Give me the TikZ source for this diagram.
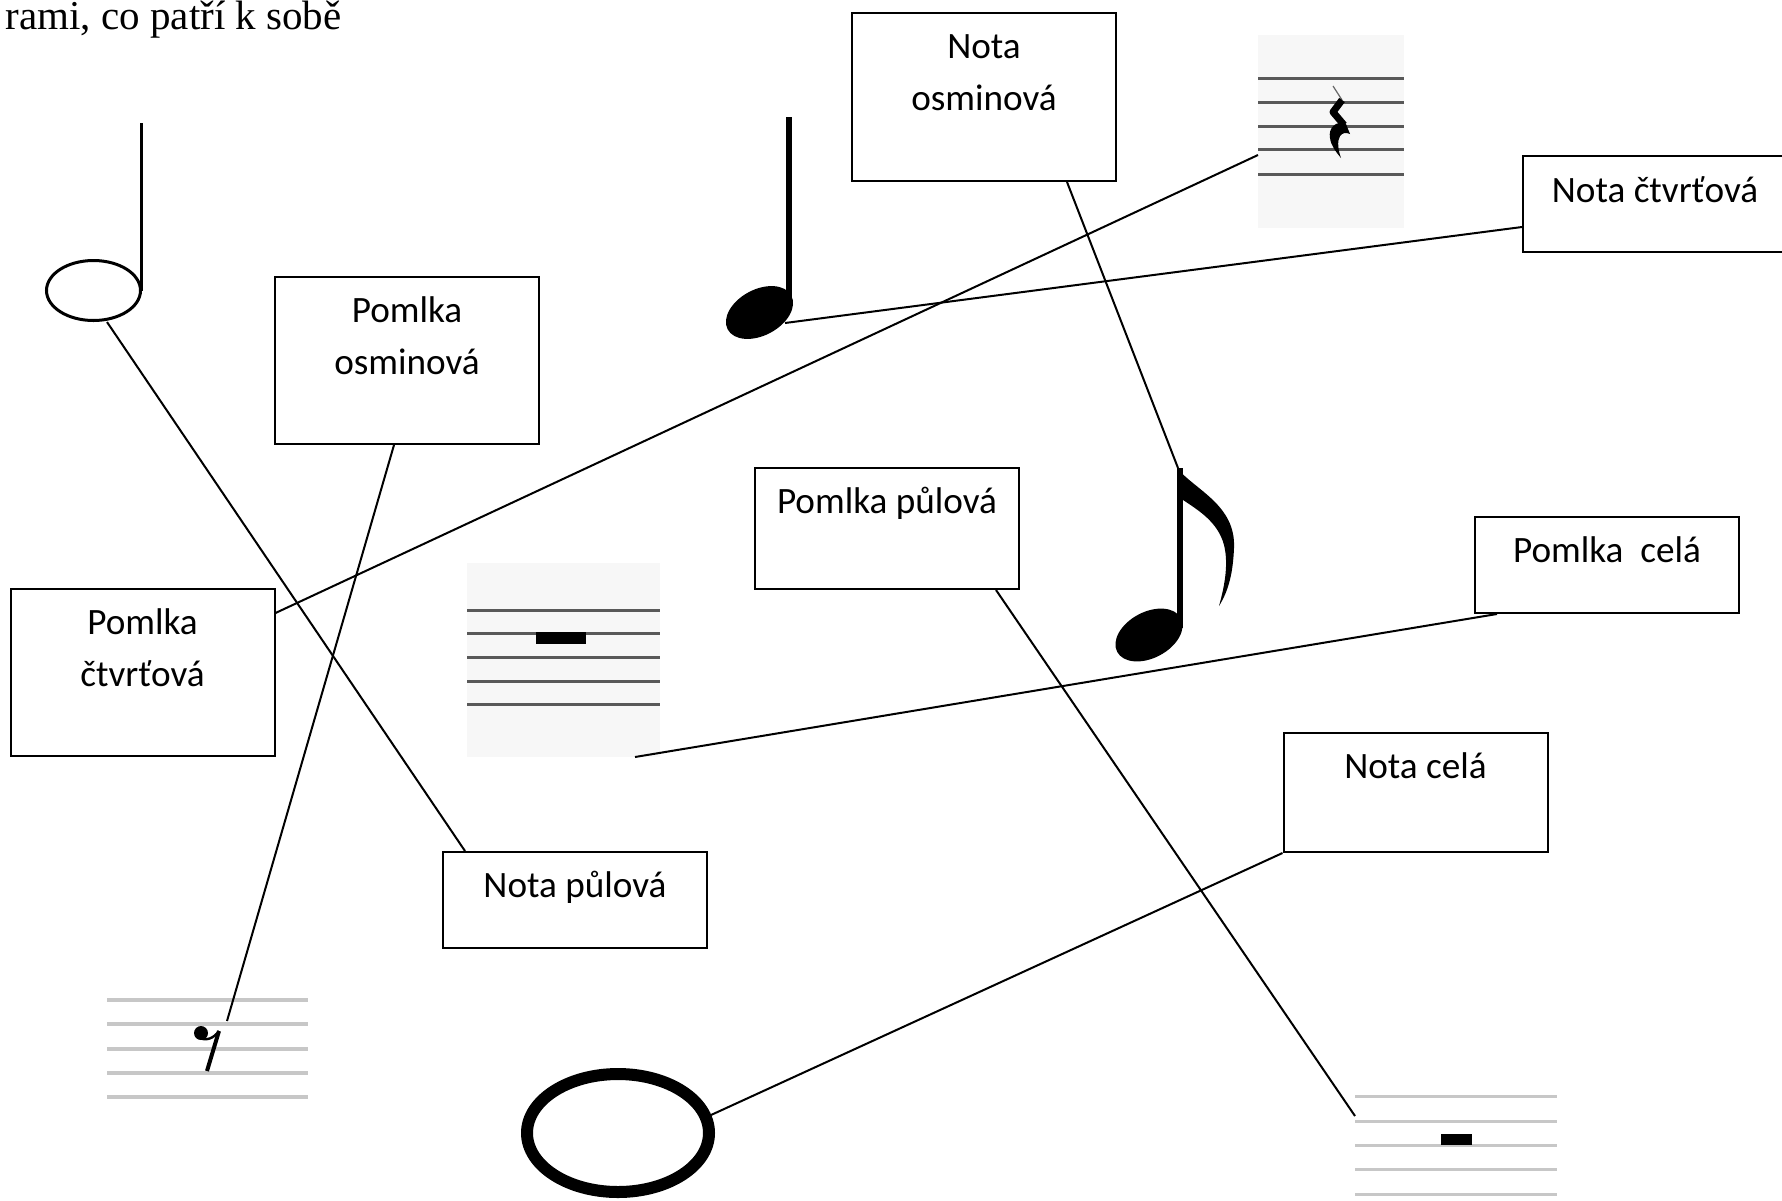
\documentclass[tikz,border=0pt]{standalone}
\usepackage{fontspec}
\setmainfont{Liberation Serif}
\newfontfamily\calibrifont{Carlito}
\begin{document}
\begin{tikzpicture}[x=0.5pt,y=-0.5pt,
  box/.style={draw,line width=1pt,rectangle,inner sep=0pt,minimum width=132pt},
  lbl/.style={anchor=base,inner sep=0pt,font=\calibrifont\fontsize{18.6}{22}\selectfont},
  conn/.style={line width=1pt},
  stafflight/.style={line width=2pt,draw=black!22},
  staffdark/.style={line width=1.5pt,draw=black!65},
  bg/.style={fill=black!3}]
\useasboundingbox (0,0) rectangle (1782,1200);

% title
\node[anchor=base east,inner sep=0pt,font=\fontsize{20.5}{22}\selectfont] (title) at (342,29) {rami, co patří k sobě};

% boxes
\node[box,minimum height=84pt] (no) at (984,97) {};
\node[lbl] (noa) at ([yshift=-23pt]no.north) {Nota};
\node[lbl] (nob) at ([yshift=-49pt]no.north) {osminová};

\node[box,minimum height=48pt] (nc) at (1655,204) {};
\node[lbl] (nca) at ([yshift=-23.5pt]nc.north) {Nota čtvrťová};

\node[box,minimum height=83.5pt] (po) at (407,360.5) {};
\node[lbl] (poa) at ([yshift=-23pt]po.north) {Pomlka};
\node[lbl] (pob) at ([yshift=-49pt]po.north) {osminová};

\node[box,minimum height=83.5pt] (pc) at (142.5,672.5) {};
\node[lbl] (pca) at ([yshift=-23pt]pc.north) {Pomlka};
\node[lbl] (pcb) at ([yshift=-49pt]pc.north) {čtvrťová};

\node[box,minimum height=60.5pt] (pp) at (887,528.5) {};
\node[lbl] (ppa) at ([yshift=-23pt]pp.north) {Pomlka půlová};

\node[box,minimum height=48pt] (pce) at (1607,565) {};
\node[lbl] (pcea) at ([yshift=-23pt]pce.north) {Pomlka\ \ celá};

\node[box,minimum height=59.5pt] (nce) at (1415.5,792.5) {};
\node[lbl] (ncea) at ([yshift=-23pt]nce.north) {Nota celá};

\node[box,minimum height=48pt] (np) at (575,900) {};
\node[lbl] (npa) at ([yshift=-23pt]np.north) {Nota půlová};

% half note (top left)
\draw[line width=1.5pt] (93.5,290.5) ellipse [x radius=47, y radius=30];
\draw[line width=1.5pt] (141,123) -- (141,291);
\coordinate (hn) at (107,322);

% quarter note
\fill[rotate around={28:(759.5,312.5)}] (759.5,312.5) ellipse [x radius=36, y radius=23];
\fill (786,117) rectangle (792,308);
\coordinate (qn) at (785,323);

% eighth note
\fill[rotate around={28:(1149,635)}] (1149,635) ellipse [x radius=36, y radius=23];
\fill (1177,468) rectangle (1183,628);
\fill (1177,468) .. controls (1195,490) and (1236,505) .. (1234,548)
  .. controls (1233,572) and (1229,590) .. (1219,606)
  .. controls (1224,588) and (1229,565) .. (1224,545)
  .. controls (1218,522) and (1198,510) .. (1183,500) -- cycle;
\coordinate (en) at (1178,468);

% quarter rest image
\fill[bg] (1258,35) rectangle (1404,228);
\foreach \yy in {78,102,126,149,174} \draw[staffdark] (1258,\yy) -- (1404,\yy);
\draw[line width=0.6pt,draw=black!60] (1333,86) -- (1342,100);
\draw[line width=3.5pt,line join=round] (1342,100) -- (1333,112) -- (1344,125);
\fill (1346,124) .. controls (1336,120) and (1328,128) .. (1330,138)
  .. controls (1331,146) and (1336,152) .. (1341,158)
  .. controls (1338,150) and (1337,141) .. (1340,136)
  .. controls (1342,133) and (1346,132) .. (1350,134) -- cycle;
\coordinate (qr) at (1258,155);

% half rest image (block under 2nd line)
\fill[bg] (467,563) rectangle (660,757);
\foreach \yy in {610,633,657,681,704} \draw[staffdark] (467,\yy) -- (660,\yy);
\fill (536,632) rectangle (586,644);
\coordinate (hr) at (635,757);

% eighth rest image
\foreach \yy in {1000,1024,1049,1073,1097} \draw[stafflight] (107,\yy) -- (308,\yy);
\fill (201,1033) circle [radius=7];
\draw[line width=1.2pt] (198,1037) .. controls (206,1042) and (214,1038) .. (219,1031);
\draw[line width=2pt] (219,1031) -- (207,1071);
\coordinate (er) at (227,1021);

% whole note
\draw[line width=6pt] (618,1133) ellipse [x radius=91, y radius=59];
\coordinate (wn) at (711,1115);

% whole rest image
\foreach \yy in {1096,1121,1145,1169,1194} \draw[stafflight,line width=1.5pt] (1355,\yy) -- (1557,\yy);
\fill (1441,1134) rectangle (1472,1145);
\coordinate (wr) at (1355,1116);

% connectors
\draw[conn] (hn) -- ([xshift=11.5pt]np.north west);
\draw[conn] ([xshift=-6.5pt]po.south) -- (er);
\draw[conn] ([yshift=-12.5pt]pc.north east) -- (qr);
\draw[conn] (qn) -- ([yshift=-36pt]nc.north west);
\draw[conn] ([xshift=108pt]no.south west) -- (en);
\draw[conn] ([xshift=121pt]pp.south west) -- (wr);
\draw[conn] ([xshift=11.5pt]pce.south west) -- (hr);
\draw[conn] (nce.south west) -- (wn);
\end{tikzpicture}
\end{document}
